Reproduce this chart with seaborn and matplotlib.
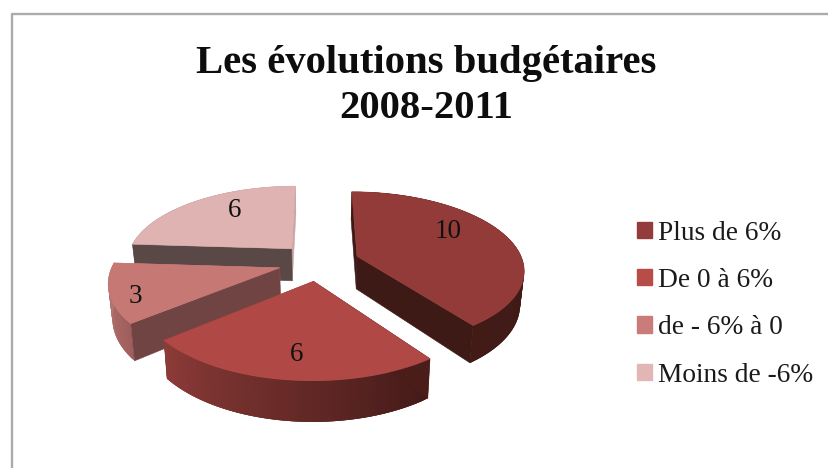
import numpy as np
import matplotlib
matplotlib.use("Agg")
import matplotlib.pyplot as plt
import seaborn as sns
from matplotlib.patches import Patch, Polygon
from matplotlib.lines import Line2D

# Chart content
title = "Les évolutions budgétaires\n2008-2011"
categories = ["Plus de 6%", "De 0 à 6%", "de - 6% à 0", "Moins de -6%"]
counts = [10, 6, 3, 6]

# Colours of the slices: top surface, swatch, radial walls, outer wall ramp
top_colors = ["#933b39", "#b04845", "#c67875", "#deb3b2"]
swatch_colors = ["#933c3b", "#b84c49", "#c97c79", "#e3b6b6"]
start_wall = ["#3e1a16", "#4a1c1a", "#714444", "#5a4846"]
end_wall = ["#3e1a16", "#8c3b38", "#ba7d7b", "#c9a5a4"]
rim_ramps = [("#3a1814", "#421b17"), ("#431a18", "#8c3b38"),
             ("#a05d5b", "#ba7d7b"), ("#8a6a69", "#c9a5a4")]

# Projection of the exploded pie, in figure pixels
CX, CY = 318.8, 262.0
RX, RY = 166.0, 76.5
PERSPECTIVE = 0.16
EXPLODE = 0.245
DEPTH = 33.0
BOTTOM_SHRINK = 0.98

# Value labels: radius fraction and angle shift from the middle of each slice
label_radius = [0.69, 0.77, 0.87, 0.70]
label_shift = [-12.0, -1.0, -5.0, 8.0]


def project(x, y, bottom=False):
    """Map pie-plane coordinates (y pointing away) to figure pixels."""
    x, y = np.asarray(x, float), np.asarray(y, float)
    s = 1.0 / (1.0 + PERSPECTIVE * y)
    px, py = RX * x * s, -RY * y * s
    if bottom:
        return np.column_stack([CX + px * BOTTOM_SHRINK, CY + py + DEPTH * s])
    return np.column_stack([CX + px, CY + py])


def wall(ax, a, b, c, d, color, edge=0.4):
    ax.add_patch(Polygon(np.vstack([a, b, c, d]), closed=True, facecolor=color,
                         edgecolor=color if edge else "none", linewidth=edge))


sns.set_theme(style="white")
plt.rcParams["font.family"] = ["Liberation Serif", "DejaVu Serif"]

fig = plt.figure(figsize=(8.29, 4.68), dpi=100, facecolor="white")
ax = fig.add_axes([0, 0, 1, 1])
ax.set_xlim(0, 829)
ax.set_ylim(468, 0)
ax.axis("off")

# Frame of the chart area, open on the right and at the bottom
ax.add_line(Line2D([12, 12, 829], [468, 13.5, 13.5], color="#ababab", linewidth=1.7))

# Slice angles, clockwise from twelve o'clock
fractions = np.array(counts, float) / sum(counts)
edges = np.concatenate([[0.0], np.cumsum(fractions) * 360.0])

# Slices painted from the back of the pie to the front
for i in [3, 0, 2, 1]:
    start, stop = edges[i], edges[i + 1]
    mid = np.radians((start + stop) / 2)
    ox, oy = EXPLODE * np.sin(mid), EXPLODE * np.cos(mid)
    theta = np.radians(np.linspace(start, stop, 90))
    ex, ey = ox + np.sin(theta), oy + np.cos(theta)

    apex_top, apex_bot = project([ox], [oy]), project([ox], [oy], True)
    arc_top, arc_bot = project(ex, ey), project(ex, ey, True)

    wall(ax, apex_top, arc_top[-1:], arc_bot[-1:], apex_bot, end_wall[i])

    # Outer wall as overlapping strips, so that no seams show between them
    ramp = sns.blend_palette(rim_ramps[i], n_colors=len(theta) - 1)
    for j, shade in enumerate(ramp):
        k = min(j + 3, len(theta) - 1)
        wall(ax, arc_top[j:j + 1], arc_top[k:k + 1],
             arc_bot[k:k + 1], arc_bot[j:j + 1], shade, edge=0)

    wall(ax, apex_top, arc_top[:1], arc_bot[:1], apex_bot, start_wall[i])

    outline = np.vstack([apex_top, arc_top])
    ax.add_patch(Polygon(outline, closed=True, facecolor=top_colors[i],
                         edgecolor=top_colors[i], linewidth=0.4))

    la = mid + np.radians(label_shift[i])
    lx = ox + label_radius[i] * np.sin(la)
    ly = oy + label_radius[i] * np.cos(la)
    pos = project([lx], [ly])[0]
    ax.text(pos[0], pos[1], str(counts[i]), ha="center", va="center",
            fontsize=19.5, color="#111111", zorder=5)

# Title
ax.text(426, 86, title, ha="center", va="center", fontsize=29.3,
        fontweight="bold", color="#0d0d0d", linespacing=1.28)

# Legend
handles = [Patch(facecolor=c, edgecolor=c) for c in swatch_colors]
ax.legend(handles, categories, loc="upper left",
          bbox_to_anchor=(637 / 829, 1 - 220.5 / 468), frameon=False,
          fontsize=19.7, labelcolor="#1a1a1a", handlelength=0.55,
          handleheight=0.55, handletextpad=0.22, labelspacing=0.82,
          borderpad=0.0, borderaxespad=0.0)

fig.savefig("out.png", dpi=100, facecolor="white")
